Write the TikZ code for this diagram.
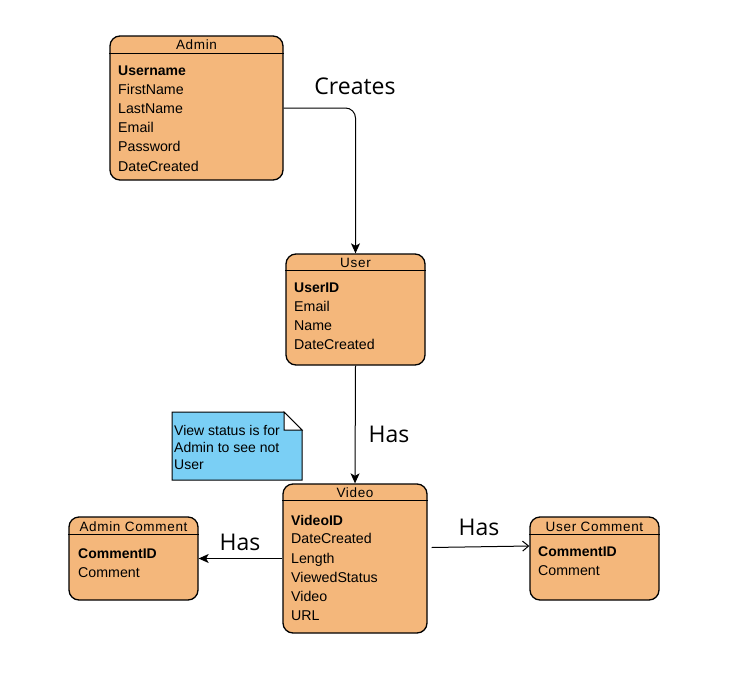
\documentclass[tikz,border=0pt]{standalone}
\usepackage{fontspec}
\setmainfont{Liberation Sans}
\newfontfamily\labelfont{Open Sans}
\newfontfamily\titlefont[LetterSpace=5]{Liberation Sans}
\usetikzlibrary{arrows.meta,calc}
\definecolor{entfill}{RGB}{244,183,123}
\definecolor{notefill}{RGB}{122,207,245}
\begin{document}
\begin{tikzpicture}[x=1pt,y=-1pt,
  entity/.style={draw=black, line width=1.3pt, fill=entfill, rounded corners=10pt, inner sep=0pt},
  hdr/.style={draw=black, line width=1pt},
  ttl/.style={anchor=base, inner sep=0pt, font=\titlefont\fontsize{13.5}{15}\selectfont},
  row/.style={anchor=base west, inner sep=0pt, font=\fontsize{14.2}{16}\selectfont},
  keyrow/.style={anchor=base west, inner sep=0pt, font=\fontsize{14}{16}\selectfont\bfseries},
  notetxt/.style={anchor=base west, inner sep=0pt, font=\fontsize{14}{15}\selectfont},
  rel/.style={draw=black, line width=1pt},
  solidtip/.style={-{Stealth[length=10pt,width=9pt,inset=2.5pt]}},
  opentip/.style={-{Straight Barb[length=6pt,width=10pt]}},
  lbl/.style={inner sep=0pt, font=\labelfont\fontsize{23}{26}\selectfont},
]
\fill[white] (0,0) rectangle (736,672);
\useasboundingbox (0,0) rectangle (736,672);

% ---------- Admin ----------
\node[entity, minimum width=173pt, minimum height=144pt] (admin) at (196.5,108) {};
\draw[hdr] (admin.west |- 0,53) -- (admin.east |- 0,53);
\node[ttl] (adminT) at (196.5,49) {Admin};
\node[keyrow] (adminK) at (118,75) {Username};
\node[row] (admin1) at (118,94) {FirstName};
\node[row] (admin2) at (118,113) {LastName};
\node[row] (admin3) at (118,132) {Email};
\node[row] (admin4) at (118,151) {Password};
\node[row] (admin5) at (118,171) {DateCreated};

% ---------- User ----------
\node[entity, minimum width=139pt, minimum height=111pt] (user) at (355.5,309.5) {};
\draw[hdr] (user.west |- 0,270) -- (user.east |- 0,270);
\node[ttl] (userT) at (355.5,267) {User};
\node[keyrow] (userK) at (294,292) {UserID};
\node[row] (user1) at (294,311) {Email};
\node[row] (user2) at (294,330) {Name};
\node[row] (user3) at (294,349) {DateCreated};

% ---------- Video ----------
\node[entity, minimum width=144pt, minimum height=149pt] (video) at (355,558.5) {};
\draw[hdr] (video.west |- 0,500) -- (video.east |- 0,500);
\node[ttl] (videoT) at (355,497) {Video};
\node[keyrow] (videoK) at (291,525) {VideoID};
\node[row] (video1) at (291,543) {DateCreated};
\node[row] (video2) at (291,563) {Length};
\node[row] (video3) at (291,582) {ViewedStatus};
\node[row] (video4) at (291,601) {Video};
\node[row] (video5) at (291,620) {URL};

% ---------- Admin Comment ----------
\node[entity, minimum width=129pt, minimum height=83pt] (acom) at (133.5,558.5) {};
\draw[hdr] (acom.west |- 0,534) -- (acom.east |- 0,534);
\node[ttl] (acomT) at (133.5,531) {Admin Comment};
\node[keyrow] (acomK) at (78,558) {CommentID};
\node[row] (acom1) at (78,577) {Comment};

% ---------- User Comment ----------
\node[entity, minimum width=129pt, minimum height=83pt] (ucom) at (594.5,558.5) {};
\draw[hdr] (ucom.west |- 0,534) -- (ucom.east |- 0,534);
\node[ttl] (ucomT) at (594.5,531) {User Comment};
\node[keyrow] (ucomK) at (538,556) {CommentID};
\node[row] (ucom1) at (538,575) {Comment};

% ---------- Note with folded corner ----------
\draw[line width=1pt, fill=notefill] (172,412) -- (284,412) -- (302,430) -- (302,480) -- (172,480) -- cycle;
\draw[line width=1pt, fill=white] (284,412) -- (284,430) -- (302,430) -- cycle;
\node[notetxt] (note1) at (174,435) {View status is for};
\node[notetxt] (note2) at (174,452) {Admin to see not};
\node[notetxt] (note3) at (174,469) {User};

% ---------- Relationships ----------
\draw[rel, solidtip, rounded corners=10pt] (admin.east) -| (user.north);
\node[lbl] (creates) at (355,86) {Creates};

\draw[rel, solidtip] (user.south) -- (video.north);
\node[lbl] (has1) at (389,434) {Has};

\draw[rel, solidtip] (video.west) -- (acom.east);
\node[lbl] (has2) at (240,542) {Has};

\draw[rel, opentip] ([shift={(4,-11)}]video.east) -- ([shift={(0,-12.5)}]ucom.west);
\node[lbl] (has3) at (479,527) {Has};
\end{tikzpicture}
\end{document}
